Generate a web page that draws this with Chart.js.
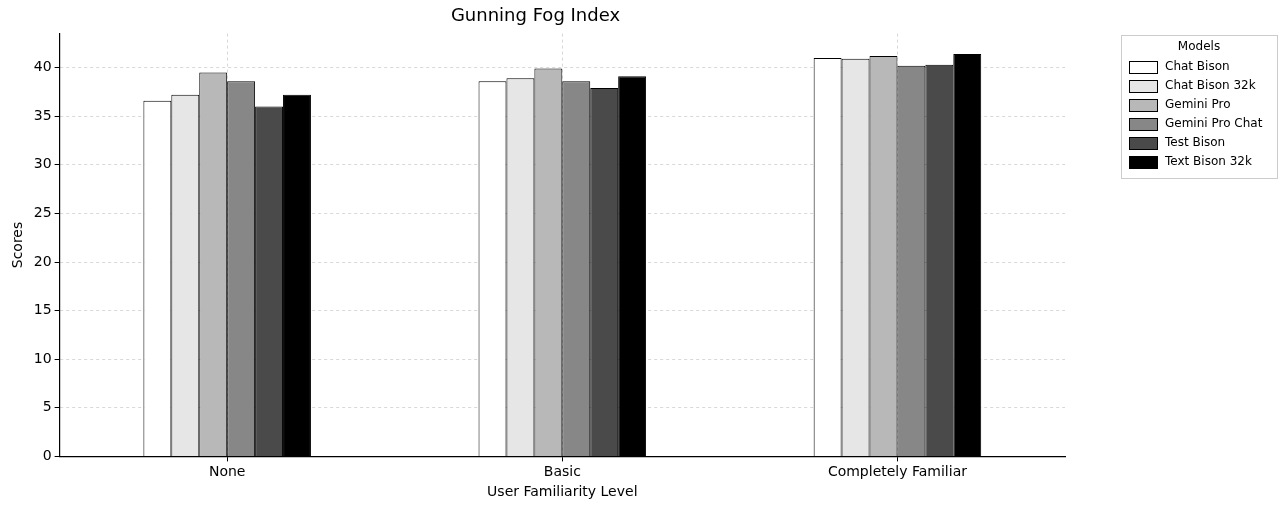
<!DOCTYPE html>
<html>
<head>
<meta charset="utf-8">
<script src="https://cdn.jsdelivr.net/npm/chart.js@4.4.2/dist/chart.umd.min.js"></script>
<style>
  html, body { margin: 0; padding: 0; background: #fff; }
  #wrap { width: 1280px; height: 507px; }
</style>
</head>
<body>
<div id="wrap"><canvas id="chart"></canvas></div>
<script>
const categories = ['None', 'Basic', 'Completely Familiar'];
const models = ['Chat Bison', 'Chat Bison 32k', 'Gemini Pro', 'Gemini Pro Chat', 'Test Bison', 'Text Bison 32k'];
const scores = [
  [36.6, 38.6, 41.0],
  [37.2, 38.9, 40.9],
  [39.5, 39.9, 41.2],
  [38.6, 38.6, 40.2],
  [36.0, 37.9, 40.3],
  [37.2, 39.1, 41.4]
];
const fills = ['#ffffff', '#e6e6e6', '#b8b8b8', '#878787', '#4a4a4a', '#000000'];

// matplotlib-like legend box in the right margin
const legendBox = {
  id: 'legendBox',
  afterDraw(chart) {
    const ctx = chart.ctx;
    const x = 1121, y = 35, w = 156, h = 143;
    ctx.save();
    ctx.strokeStyle = '#cccccc';
    ctx.fillStyle = '#fff';
    ctx.lineWidth = 1;
    ctx.fillRect(x, y, w, h);
    ctx.strokeRect(x + 0.5, y + 0.5, w, h);
    ctx.fillStyle = '#000';
    ctx.font = '12px "DejaVu Sans"';
    ctx.textAlign = 'center';
    ctx.textBaseline = 'middle';
    ctx.fillText('Models', x + w / 2, y + 12);
    ctx.textAlign = 'left';
    chart.data.datasets.forEach((ds, i) => {
      const ry = y + 32 + i * 19;
      ctx.fillStyle = ds.backgroundColor;
      ctx.fillRect(x + 8, ry - 6, 28, 12);
      ctx.strokeStyle = '#000';
      ctx.strokeRect(x + 8.5, ry - 5.5, 28, 12);
      ctx.fillStyle = '#000';
      ctx.fillText(ds.label, x + 44, ry);
    });
    ctx.restore();
  }
};

new Chart(document.getElementById('chart'), {
  type: 'bar',
  data: {
    labels: categories,
    datasets: models.map((m, i) => ({
      label: m,
      data: scores[i],
      backgroundColor: fills[i],
      borderColor: '#000',
      borderWidth: 1
    }))
  },
  options: {
    responsive: true,
    maintainAspectRatio: false,
    animation: false,
    categoryPercentage: 0.5,
    barPercentage: 1.0,
    layout: { padding: { top: 4, right: 215, left: 6, bottom: 6 } },
    plugins: {
      title: {
        display: true,
        text: 'Gunning Fog Index',
        color: '#000',
        font: { family: 'DejaVu Sans', size: 18, weight: 'normal' },
        padding: { top: 2, bottom: 6 }
      },
      legend: { display: false },
      tooltip: { enabled: false }
    },
    scales: {
      x: {
        grid: { offset: false, color: '#d8d8d8', tickColor: '#000', tickLength: 5 },
        border: { color: '#000', width: 1.2, dash: [3, 3] },
        ticks: { color: '#000', font: { family: 'DejaVu Sans', size: 14 } },
        title: { display: true, text: 'User Familiarity Level', color: '#000', font: { family: 'DejaVu Sans', size: 14 }, padding: 0 }
      },
      y: {
        min: 0,
        max: 43.5,
        afterBuildTicks: axis => { axis.ticks = [0, 5, 10, 15, 20, 25, 30, 35, 40].map(v => ({ value: v })); },
        grid: { color: '#d8d8d8', tickColor: '#000', tickLength: 5 },
        border: { color: '#000', width: 1.2, dash: [3, 3] },
        ticks: { color: '#000', font: { family: 'DejaVu Sans', size: 14 } },
        title: { display: true, text: 'Scores', color: '#000', font: { family: 'DejaVu Sans', size: 14 } }
      }
    }
  },
  plugins: [legendBox]
});
</script>
</body>
</html>
